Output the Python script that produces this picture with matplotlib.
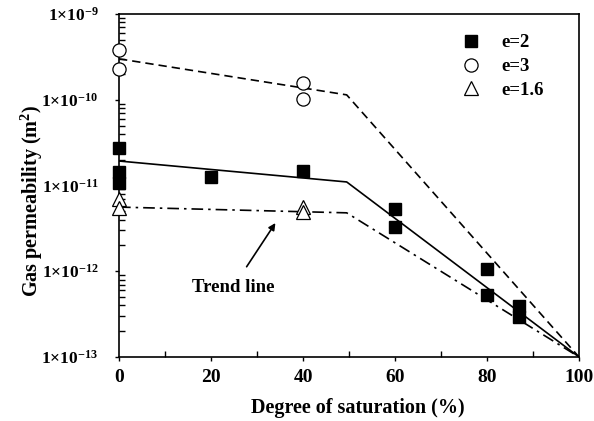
import matplotlib
matplotlib.use("Agg")
import matplotlib.pyplot as plt
from matplotlib.ticker import FixedLocator, LogLocator, NullFormatter

plt.rcParams["font.family"] = ["Liberation Serif", "DejaVu Serif"]
plt.rcParams["font.weight"] = "bold"
plt.rcParams["mathtext.fontset"] = "custom"
plt.rcParams["mathtext.rm"] = "Liberation Serif:bold"
plt.rcParams["mathtext.bf"] = "Liberation Serif:bold"
plt.rcParams["mathtext.it"] = "Liberation Serif:bold"
plt.rcParams["mathtext.default"] = "rm"

# ── measured points ──────────────────────────────────────────────────────────
e2_x = [0, 0, 0, 20, 40, 60, 60, 80, 80, 87, 87]
e2_y = [2.74e-11, 1.44e-11, 1.07e-11, 1.26e-11, 1.48e-11, 5.3e-12, 3.3e-12,
        1.06e-12, 5.3e-13, 3.9e-13, 2.9e-13]

e3_x = [0, 0, 40, 40]
e3_y = [3.8e-10, 2.3e-10, 1.57e-10, 1.02e-10]

e16_x = [0, 0, 40, 40]
e16_y = [7.0e-12, 5.5e-12, 5.6e-12, 4.9e-12]

# ── trend lines ──────────────────────────────────────────────────────────────
trend_x = [0, 49.5, 100]
trend_e2 = [1.93e-11, 1.10e-11, 1e-13]
trend_e3 = [3.0e-10, 1.14e-10, 1e-13]
trend_e16 = [5.6e-12, 4.8e-12, 1e-13]

x_ticks = [0, 20, 40, 60, 80, 100]
y_ticks = [1e-13, 1e-12, 1e-11, 1e-10, 1e-9]
y_labels = [r"1×10$^{-13}$", r"1×10$^{-12}$", r"1×10$^{-11}$", r"1×10$^{-10}$", r"1×10$^{-9}$"]

fig = plt.figure(figsize=(5.94, 4.21), dpi=100)
ax = fig.add_axes([119 / 594, 1 - 357 / 421, (579 - 119) / 594, (357 - 14) / 421])

ax.plot(trend_x, trend_e2, color="black", lw=1.2, ls="-")
ax.plot(trend_x, trend_e3, color="black", lw=1.2, ls=(0, (5, 3)))
ax.plot(trend_x, trend_e16, color="black", lw=1.2, ls=(0, (7, 3, 1.5, 3)))

ax.plot(e2_x, e2_y, ls="none", marker="s", ms=9, mfc="black", mec="black", label="e=2", clip_on=False, zorder=5)
ax.plot(e3_x, e3_y, ls="none", marker="o", ms=9.5, mfc="white", mec="black", mew=0.9, label="e=3", clip_on=False, zorder=5)
ax.plot(e16_x, e16_y, ls="none", marker="^", ms=10.5, mfc="white", mec="black", mew=0.9, label="e=1.6", clip_on=False, zorder=5)

ax.set_yscale("log")
ax.set_xlim(0, 100)
ax.set_ylim(1e-13, 1e-9)
ax.set_xticks(x_ticks)
ax.set_xticklabels([str(v) for v in x_ticks], fontsize=14, fontweight="bold")
ax.xaxis.set_minor_locator(FixedLocator([10, 30, 50, 70, 90]))
ax.set_yticks(y_ticks)
ax.set_yticklabels(y_labels, fontsize=12.5)
ax.yaxis.set_minor_locator(LogLocator(base=10, subs=range(2, 10)))
ax.yaxis.set_minor_formatter(NullFormatter())

ax.tick_params(axis="x", which="major", direction="out", length=3, width=1, pad=6)
ax.tick_params(axis="y", which="major", direction="out", length=3, width=1, pad=12)
ax.tick_params(axis="both", which="minor", direction="in", length=4, width=1)
ax.tick_params(top=False, right=False, which="both")
for s in ax.spines.values():
    s.set_linewidth(1.2)

ax.set_xlabel("Degree of saturation (%)", fontsize=14.5, fontweight="bold")
ax.set_ylabel(r"Gas permeability (m$^2$)", fontsize=14.5, fontweight="bold")
ax.xaxis.set_label_coords(0.52, -0.12)
ax.yaxis.set_label_coords(-0.16, 0.455)

ax.legend(loc="upper right", bbox_to_anchor=(0.96, 0.99), frameon=False,
          handletextpad=1.0, labelspacing=0.35, handlelength=1.2,
          prop={"family": "Liberation Serif", "weight": "bold", "size": 13.5})

ax.annotate("Trend line", xy=(34, 3.65e-12), xytext=(24.8, 6.5e-13),
            ha="center", va="center", fontsize=13.5, fontweight="bold",
            arrowprops=dict(arrowstyle="-|>", color="black", lw=1.2, mutation_scale=10,
                            shrinkA=8, shrinkB=0))

fig.savefig("out.png", dpi=100)
